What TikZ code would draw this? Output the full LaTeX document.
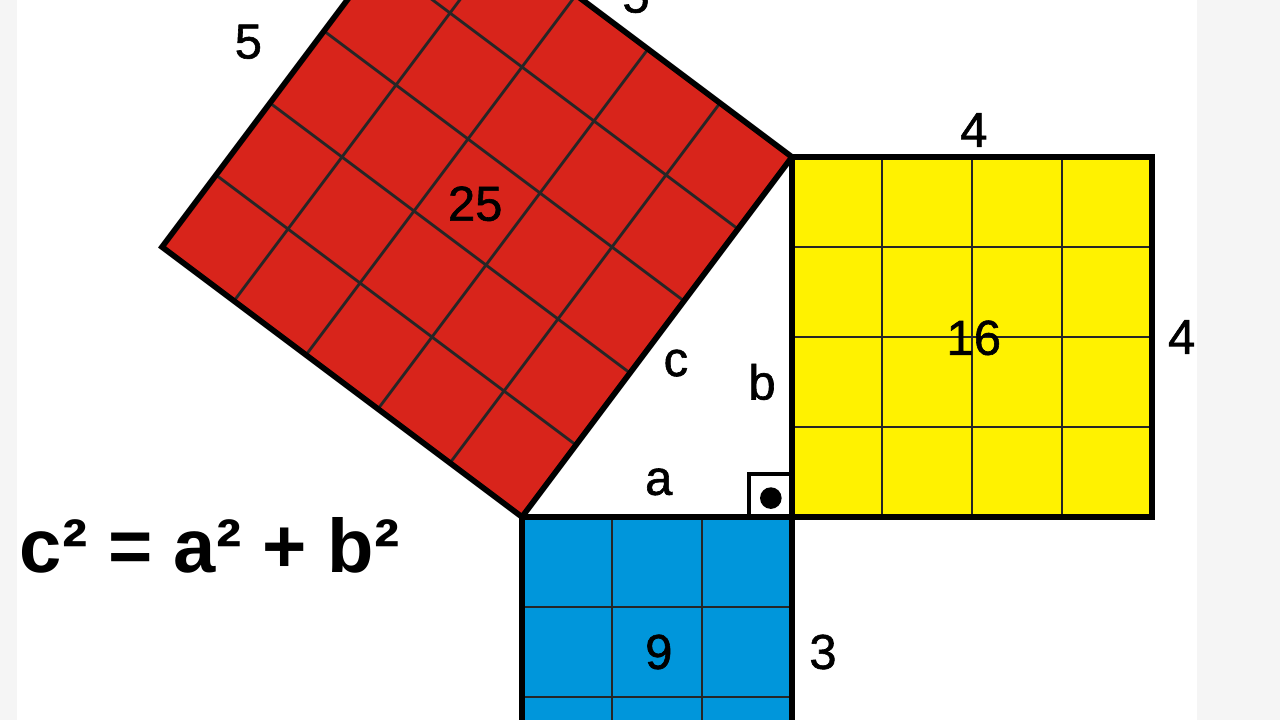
\documentclass[tikz,border=0pt]{standalone}
\usepackage{fontspec}
\setmainfont{Liberation Sans}
\newfontfamily\lblfont[FakeBold=1.2]{Liberation Sans}
\usetikzlibrary{positioning}
\definecolor{sqred}{HTML}{D8241B}
\definecolor{sqyellow}{HTML}{FFF200}
\definecolor{sqblue}{HTML}{0096DB}
\definecolor{margin}{HTML}{F5F5F5}

\begin{document}
\begin{tikzpicture}[
  edge/.style={line width=1.8pt, line join=miter},
  cell/.style={line width=0.9pt, black!85},
  lbl/.style={font=\lblfont\fontsize{15.5}{18}\selectfont, inner sep=0pt}
]
\useasboundingbox (-8.8,-2.2556) rectangle (5.4222,5.7444);
\fill[margin] (-8.8,-2.2556) rectangle (-8.611,5.7444);
\fill[margin] (4.5,-2.2556) rectangle (5.4222,5.7444);

% --- Triangle corners ---
\coordinate (A) at (-3,0);
\coordinate (C) at (0,0);
\coordinate (B) at (0,4);

% --- Red square on c ---
\begin{scope}[shift={(A)}, rotate=53.1301]
  \fill[sqred] (0,0) -- (5,0) -- (5,5) -- (0,5) -- cycle;
  \draw[cell] (0,0) grid (5,5);
  \draw[edge] (0,0) -- (5,0) -- (5,5) -- (0,5) -- cycle;
\end{scope}

% --- Yellow square on b ---
\fill[sqyellow] (C) rectangle (4,4);
\draw[cell] (C) grid (4,4);
\draw[edge] (C) rectangle (4,4);

% --- Blue square on a ---
\fill[sqblue] (-3,-3) rectangle (C);
\draw[cell] (-3,-3) grid (C);
\draw[edge] (-3,-3) rectangle (C);

% Right angle mark
\draw[line width=1.3pt] (-0.48,0) |- (0,0.48);
\fill (-0.235,0.21) circle (0.12);

% Side lengths
\node[lbl] (sideC1) at (-6.04,5.28) {5};
\node[lbl] (sideC2) at (-1.733,5.79) {5};
\node[lbl] (sideB1) at (2.02,4.30) {4};
\node[lbl] (sideB2) at (4.33,2.0) {4};
\node[lbl] (sideA) at (0.344,-1.5) {3};

% Areas
\node[lbl] (areaC) at (-3.52,3.48) {25};
\node[lbl] (areaB) at (2.02,1.99) {16};
\node[lbl] (areaA) at (-1.48,-1.5) {9};

% Legs and hypotenuse
\node[lbl] (legC) at (-1.29,1.71) {c};
\node[lbl] (legB) at (-0.333,1.5) {b};
\node[lbl] (legA) at (-1.48,0.39) {a};

% Law
\node[font=\bfseries\fontsize{24}{29}\selectfont, inner sep=0pt] (law) at (-6.47,-0.32) {c² = a² + b²};
\end{tikzpicture}
\end{document}
